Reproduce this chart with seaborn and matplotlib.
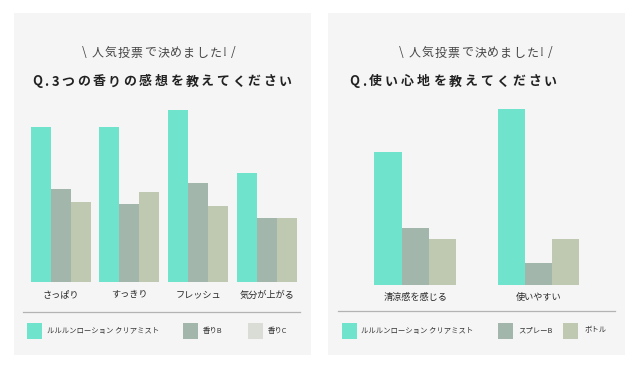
import matplotlib
matplotlib.use("Agg")
import matplotlib.pyplot as plt
import seaborn as sns
import pandas as pd
from matplotlib.patches import Rectangle
from matplotlib.lines import Line2D

# data (bar heights, arbitrary units)
scent_cats = ['さっぱり', 'すっきり', 'フレッシュ', '気分が上がる']
scent_series = ['ルルルンローション クリアミスト', '香りB', '香りC']
scent_main = [155, 155, 172, 109]
scent_b = [93, 78, 99, 64]
scent_c = [80, 90, 76, 64]

feel_cats = ['清涼感を感じる', '使いやすい']
feel_series = ['ルルルンローション クリアミスト', 'スプレーB', 'ボトル']
feel_main = [133, 176]
feel_b = [57, 22]
feel_c = [46, 46]

colors = ['#6fe3cb', '#a3b6ac', '#bfc8b1']
legend_colors = [['#6fe3cb', '#a3b6ac', '#d9ddd5'], ['#6fe3cb', '#a3b6ac', '#bfc8b1']]

W, H = 640, 368
plt.rcParams['font.family'] = ['Noto Sans CJK JP', 'DejaVu Sans']
fig = plt.figure(figsize=(W / 100, H / 100), dpi=100, facecolor='white')


def fx(x):
    return x / W


def fy(y):
    return 1 - y / H


def spaced(x, y, s, size, spacing, **kw):
    # draw text char by char to get the wide letter spacing of the titles
    r = fig.canvas.get_renderer()
    for ch in s:
        t = fig.text(fx(x), fy(y), ch, fontsize=size, va='center', ha='left', **kw)
        x += t.get_window_extent(r).width + spacing


def panel(left, right, top, bottom):
    fig.patches.append(Rectangle((fx(left), fy(bottom)), fx(right - left), (bottom - top) / H,
                                 transform=fig.transFigure, facecolor='#f5f5f5', edgecolor='none', zorder=-5))


def bars(rect, cats, series, vals, width, ymax):
    df = pd.DataFrame({
        'cat': cats * 3,
        'series': [s for s in series for _ in cats],
        'value': [v for col in vals for v in col],
    })
    l, t, r, b = rect
    ax = fig.add_axes([fx(l), fy(b), fx(r - l), (b - t) / H])
    sns.barplot(data=df, x='cat', y='value', hue='series', palette=colors, width=width,
                saturation=1, legend=False, ax=ax)
    ax.set_xlim(-0.5, len(cats) - 0.5)
    ax.set_ylim(0, ymax)
    ax.set_facecolor('none')
    for s in ax.spines.values():
        s.set_visible(False)
    ax.set_yticks([])
    ax.set_xlabel('')
    ax.set_ylabel('')
    ax.tick_params(axis='x', length=0, pad=6, labelsize=6.6, labelcolor='#2a2a2a')
    return ax


def legend(items_x, y, labels, cols):
    for (sx, tx), lab, c in zip(items_x, labels, cols):
        fig.patches.append(Rectangle((fx(sx), fy(y + 8)), fx(15), 16 / H, transform=fig.transFigure,
                                     facecolor=c, edgecolor='none', zorder=1))
        fig.text(fx(tx), fy(y), lab, fontsize=5.3, color='#333333', va='center', ha='left')


sub = '\\ 人気投票で決めました! /'

# left panel
panel(14, 311, 13, 355)
spaced(82, 53, sub, 8.6, 1.2, color='#444444')
spaced(32, 81.5, 'Q.3つの香りの感想を教えてください', 9.3, 2.6, weight='bold', color='#222222')
bars((26.3, 105, 301, 282), scent_cats, scent_series, [scent_main, scent_b, scent_c], 0.873, 177)
fig.add_artist(Line2D([fx(23), fx(300)], [fy(311.5), fy(311.5)], color='#b3b3b3', lw=0.9))
legend([(26.7, 46.7), (182.7, 202.7), (248.3, 268)], 330.5, scent_series, legend_colors[0])

# right panel
panel(328, 625, 13, 355)
spaced(399, 53, sub, 8.6, 1.2, color='#444444')
spaced(349, 81.5, 'Q.使い心地を教えてください', 9.3, 3.0, weight='bold', color='#222222')
bars((353.5, 105, 600.2, 285), feel_cats, feel_series, [feel_main, feel_b, feel_c], 0.662, 180)
fig.add_artist(Line2D([fx(338), fx(615)], [fy(310.5), fy(310.5)], color='#b3b3b3', lw=0.9))
legend([(341.7, 360.7), (497.7, 518), (563.3, 585)], 330.5, feel_series, legend_colors[1])

fig.savefig('out.png', dpi=100, facecolor='white')
